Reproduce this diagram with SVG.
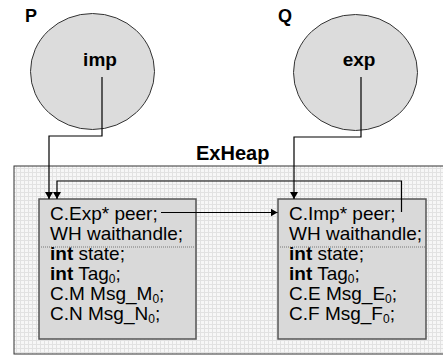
<svg xmlns="http://www.w3.org/2000/svg" width="443" height="358" viewBox="0 0 443 358">
<defs>
<pattern id="grid" width="4" height="4" patternUnits="userSpaceOnUse">
<rect width="4" height="4" fill="#f7f7f7"/>
<path d="M0 0.5H4M0.5 0V4" stroke="#e2e2e2" stroke-width="1" fill="none"/>
</pattern>
<marker id="ah" markerWidth="8" markerHeight="8" refX="7" refY="4" orient="auto" markerUnits="userSpaceOnUse">
<path d="M0 0L7 4L0 8Z" fill="#000"/>
</marker>
<style>
.lbl{font-family:"Liberation Sans",Arial,sans-serif;font-weight:bold;fill:#000}
.t{font-family:"Liberation Sans",Arial,sans-serif;font-size:19px;fill:#000}
.b{font-weight:bold}
.s{font-size:12px}
.circ{fill:#dcdcdc;stroke:#333;stroke-width:1}
.box{fill:#d9d9d9;stroke:#555;stroke-width:1.5}
.sep{stroke:#777;stroke-width:1;stroke-dasharray:1 1}
.con{fill:none;stroke:#000;stroke-width:1.2}
</style>
</defs>
<rect width="443" height="358" fill="#fff"/>
<g id="exheap">
<rect x="14" y="166" width="440" height="188" fill="url(#grid)" stroke="#333" stroke-width="1"/>
<text class="lbl" x="196" y="160" font-size="20">ExHeap</text>
</g>
<g id="P">
<text class="lbl" x="25" y="22" font-size="18">P</text>
<ellipse class="circ" cx="92.5" cy="71.5" rx="62" ry="58"/>
<text class="lbl" x="100" y="66" font-size="19" text-anchor="middle">imp</text>
</g>
<g id="Q">
<text class="lbl" x="278" y="22" font-size="18">Q</text>
<ellipse class="circ" cx="355.5" cy="72.5" rx="62" ry="58"/>
<text class="lbl" x="359" y="66" font-size="19" text-anchor="middle">exp</text>
</g>
<g id="boxImp">
<rect class="box" x="39" y="199" width="157" height="140"/>
<line class="sep" x1="39" y1="247" x2="196" y2="247"/>
<text class="t" x="50" y="220">C.Exp* peer;</text>
<text class="t" x="50" y="240">WH waithandle;</text>
<text class="t" x="50" y="260"><tspan class="b">int</tspan> state;</text>
<text class="t" x="50" y="280"><tspan class="b">int</tspan> Tag<tspan class="s" dy="3">0</tspan><tspan dy="-3">;</tspan></text>
<text class="t" x="50" y="300">C.M Msg_M<tspan class="s" dy="3">0</tspan><tspan dy="-3">;</tspan></text>
<text class="t" x="50" y="320">C.N Msg_N<tspan class="s" dy="3">0</tspan><tspan dy="-3">;</tspan></text>
</g>
<g id="boxExp">
<rect class="box" x="278" y="199" width="148" height="140"/>
<line class="sep" x1="278" y1="247" x2="426" y2="247"/>
<text class="t" x="289" y="220">C.Imp* peer;</text>
<text class="t" x="289" y="240">WH waithandle;</text>
<text class="t" x="289" y="260"><tspan class="b">int</tspan> state;</text>
<text class="t" x="289" y="280"><tspan class="b">int</tspan> Tag<tspan class="s" dy="3">0</tspan><tspan dy="-3">;</tspan></text>
<text class="t" x="289" y="300">C.E Msg_E<tspan class="s" dy="3">0</tspan><tspan dy="-3">;</tspan></text>
<text class="t" x="289" y="320">C.F Msg_F<tspan class="s" dy="3">0</tspan><tspan dy="-3">;</tspan></text>
</g>
<g id="connectors">
<polyline class="con" points="102,77 102,136 49,136 49,199" marker-end="url(#ah)"/>
<polyline class="con" points="361,77 361,137 294,137 294,199" marker-end="url(#ah)"/>
<polyline class="con" points="401.5,212 401.5,181 57,181 57,199" marker-end="url(#ah)"/>
<polyline class="con" points="161,212.5 277.5,212.5" marker-end="url(#ah)"/>
</g>
</svg>
